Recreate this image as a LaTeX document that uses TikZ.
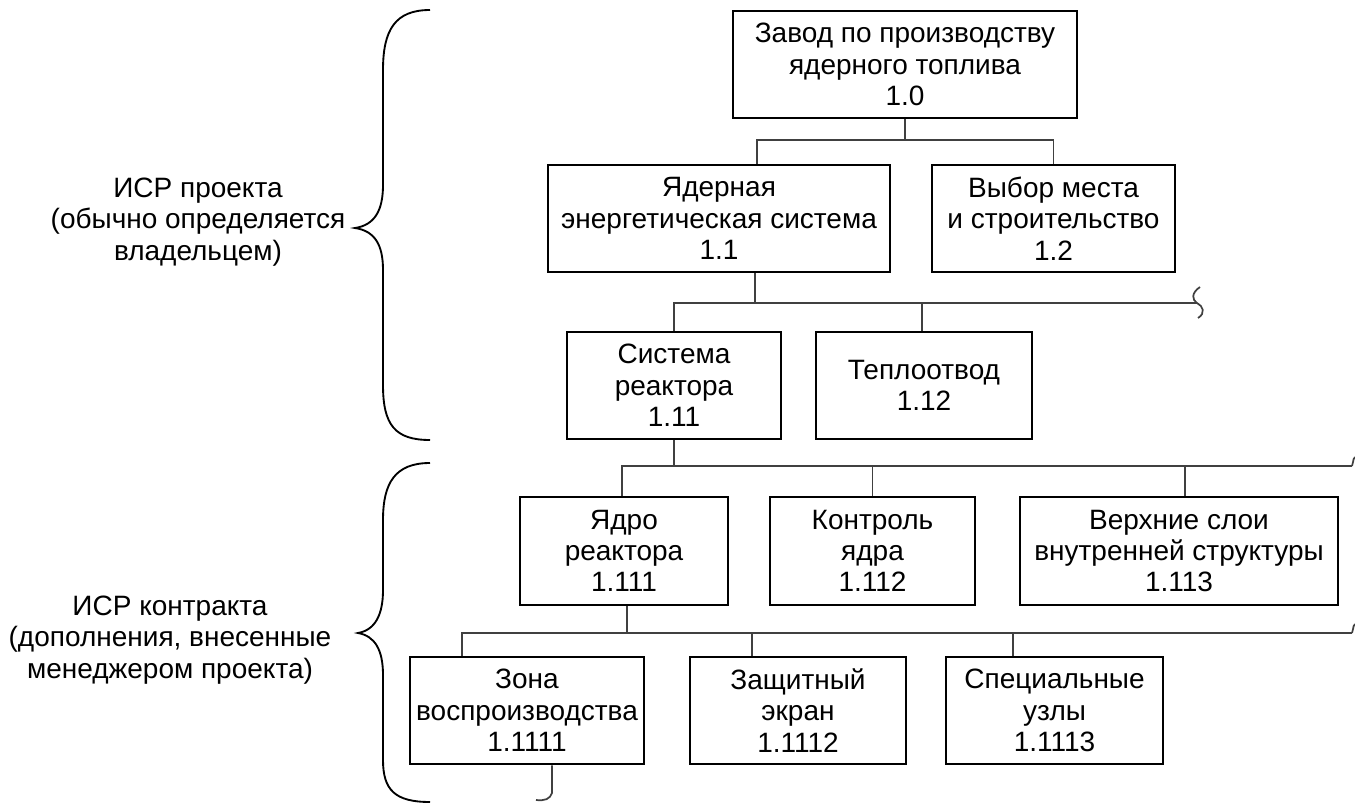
\documentclass[tikz,border=0pt]{standalone}
\usepackage{fontspec}
\setmainfont{Liberation Sans}
\begin{document}
\begin{tikzpicture}[x=0.75pt,y=-0.75pt,
  box/.style={draw=black,line width=2pt,inner sep=0pt,align=center,font=\fontsize{21}{23.5}\selectfont},
  link/.style={draw=black!75,line width=1.3pt},
  lbl/.style={align=center,font=\fontsize{21}{23.8}\selectfont},
  brace/.style={draw=black,line width=1.4pt}]
\useasboundingbox (0,0) rectangle (1355,803);

% boxes
\node[box,minimum width=258pt,minimum height=80.25pt] (n10) at (905,64.5) {Завод по производству\\ядерного топлива\\1.0};
\node[box,minimum width=256.5pt,minimum height=80.25pt] (n11) at (719,218.5) {Ядерная\\энергетическая система\\1.1};
\node[box,minimum width=182.25pt,minimum height=80.25pt] (n12) at (1053.5,218.5) {Выбор места\\и строительство\\1.2};
\node[box,minimum width=160.5pt,minimum height=80.25pt] (n111) at (674,385.5) {Система\\реактора\\1.11};
\node[box,minimum width=162pt,minimum height=80.25pt] (n112) at (924,385.5) {Теплоотвод\\1.12};
\node[box,minimum width=156pt,minimum height=81pt] (n1111) at (624,551) {Ядро\\реактора\\1.111};
\node[box,minimum width=153.75pt,minimum height=81pt] (n1112) at (872.5,551) {Контроль\\ядра\\1.112};
\node[box,minimum width=238.5pt,minimum height=81pt] (n1113) at (1179,551) {Верхние слои\\внутренней структуры\\1.113};
\node[box,minimum width=175.5pt,minimum height=80.25pt] (n11111) at (527,710.5) {Зона\\воспроизводства\\1.1111};
\node[box,minimum width=162pt,minimum height=80.25pt] (n11112) at (798,710.5) {Защитный\\экран\\1.1112};
\node[box,minimum width=162.75pt,minimum height=80.25pt] (n11113) at (1054.5,710.5) {Специальные\\узлы\\1.1113};

% labels
\node[lbl] (l1) at (198,222) {ИСР проекта\\(обычно определяется\\владельцем)};
\node[lbl] (l2) at (170,640) {ИСР контракта\\(дополнения, внесенные\\менеджером проекта)};

% level 1
\coordinate (b1) at (905,140);
\draw[link] (n10.south) -- (b1);
\draw[link] ([xshift=28.5pt]n11.north) |- (b1) -| (n12.north);

% level 2
\coordinate (b2) at (755,303);
\coordinate (w2) at (1197,303);
\draw[link] ([xshift=27pt]n11.south) -- (b2);
\draw[link] (n111.north) |- (w2);
\draw[link] ([xshift=-1.5pt]n112.north) -- ([xshift=-1.5pt]n112.north |- w2);
\draw[link] (1200,287) .. controls (1191,293) and (1192,300) .. (w2) .. controls (1203,306) and (1206,313) .. (1198,318);

% level 3
\coordinate (b3) at (674,466);
\coordinate (e3) at (1352,466);
\draw[link] (n111.south) -- (b3);
\draw[link] ([xshift=-1.5pt]n1111.north) |- (e3);
\draw[link] (n1112.north) -- (n1112.north |- e3);
\draw[link] ([xshift=4.5pt]n1113.north) -- ([xshift=4.5pt]n1113.north |- e3);
\draw[link] (e3) .. controls (1354,463) and (1352,460) .. (1355,457);

% level 4
\coordinate (b4) at (627,633);
\coordinate (e4) at (1352,633);
\draw[link] ([xshift=2.25pt]n1111.south) -- (b4);
\draw[link] ([xshift=-48.75pt]n11111.north) |- (e4);
\draw[link] ([xshift=-34.5pt]n11112.north) -- ([xshift=-34.5pt]n11112.north |- e4);
\draw[link] ([xshift=-31.1pt]n11113.north) -- ([xshift=-31.1pt]n11113.north |- e4);
\draw[link] (e4) .. controls (1354,630) and (1352,627) .. (1355,624);

% bottom continuation
\coordinate (bt) at (552,793);
\draw[link] ([xshift=18.75pt]n11111.south) -- (bt) .. controls (550,799) and (545,801) .. (536,800);

% braces
\draw[brace] (430,10) .. controls (395,10) and (383,30) .. (383,70) -- (383,185)
  .. controls (383,210) and (375,225) .. (355,228)
  .. controls (375,231) and (383,245) .. (383,270) -- (383,385)
  .. controls (383,425) and (395,440) .. (430,440);
\draw[brace] (430,463) .. controls (395,463) and (383,483) .. (383,520) -- (383,590)
  .. controls (383,615) and (375,630) .. (358,633)
  .. controls (375,636) and (383,650) .. (383,675) -- (383,760)
  .. controls (383,790) and (395,802) .. (430,802);
\end{tikzpicture}
\end{document}
